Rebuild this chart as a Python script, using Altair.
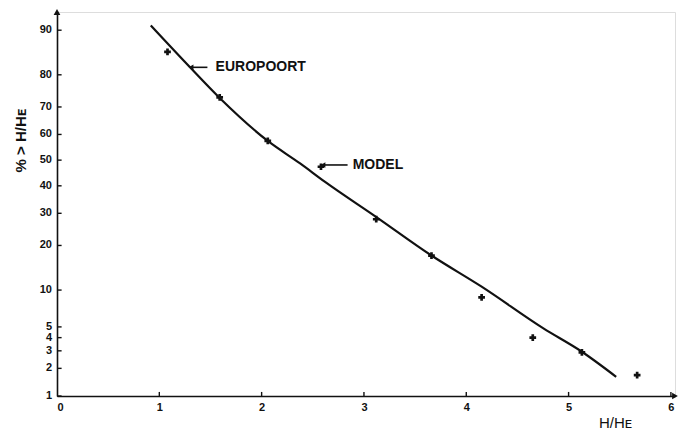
import altair as alt
import pandas as pd
from statistics import NormalDist

nd = NormalDist()

# ---- data ----
prob_ticks = [1, 2, 3, 4, 5, 10, 20, 30, 40, 50, 60, 70, 80, 90]
x_ticks = [1, 2, 3, 4, 5, 6]

europoort_x = [0.916, 1.30, 1.59, 2.06, 2.376, 2.62, 3.118, 3.656, 4.15, 4.754, 5.13, 5.465]
europoort_p = [90.8, 82.0, 73.0, 57.5, 48.7, 41.5, 28.8, 17.4, 10.6, 4.85, 2.94, 1.63]

model_x = [1.08, 1.59, 2.06, 2.58, 3.12, 3.66, 4.15, 4.65, 5.13, 5.67]
model_p = [85.7, 73.2, 57.5, 47.4, 28.0, 17.3, 8.8, 4.0, 2.9, 1.7]

labels = ["EUROPOORT", "MODEL"]
label_x = [1.55, 2.89]
label_p = [82.0, 48.1]
arrow_x0 = [1.31, 2.60]
arrow_x1 = [1.47, 2.84]

X_MAX = 6.04
P_MIN, P_MAX = 1.0, 92.8


def z(p):
    return nd.inv_cdf(p / 100.0)


Z_MIN, Z_MAX = z(P_MIN), z(P_MAX)

curve_df = pd.DataFrame({"x": europoort_x, "z": [z(p) for p in europoort_p]})
model_df = pd.DataFrame({"x": model_x, "z": [z(p) for p in model_p]})
ytick_df = pd.DataFrame({"z": [z(p) for p in prob_ticks], "x0": 0.0, "x1": 0.045,
                         "label": [str(p) for p in prob_ticks]})
xtick_df = pd.DataFrame({"x": x_ticks, "z0": Z_MIN, "z1": Z_MIN + 0.04})
lab_df = pd.DataFrame({"label": labels, "x": label_x, "z": [z(p) for p in label_p],
                       "a0": arrow_x0, "a1": arrow_x1})
arrowhead_df = pd.DataFrame({"x": [0.0, X_MAX], "z": [Z_MAX, Z_MIN],
                             "shape": ["triangle-up", "triangle-right"]})

xscale = alt.Scale(domain=[0, X_MAX], nice=False, zero=False)
yscale = alt.Scale(domain=[Z_MIN, Z_MAX], nice=False, zero=False)

x_axis = alt.Axis(values=[0, 1, 2, 3, 4, 5, 6], format="d", ticks=False, grid=False,
                  labelOverlap=False,
                  domainColor="#111", domainWidth=1.6, labelFont="Liberation Sans",
                  labelFontWeight="bold", labelFontSize=11, labelColor="#111",
                  labelPadding=5, title="H/Hᴇ", titleFont="Liberation Sans",
                  titleFontSize=15, titleFontWeight="normal", titleColor="#111",
                  titleX=558, titleY=26, titleAnchor="start", titleAlign="center",
                  titleBaseline="middle")
y_axis = alt.Axis(values=[z(p) for p in prob_ticks], labels=False, ticks=False,
                  grid=False, domainColor="#111", domainWidth=1.6,
                  title="% > H/Hᴇ",
                  titleFont="Liberation Sans", titleFontSize=15, titleFontWeight="bold",
                  titleColor="#111", titleX=-29, titleY=128, titleAngle=-90,
                  titleAlign="center", titleBaseline="bottom")

base_x = alt.X("x:Q", scale=xscale, axis=x_axis)
base_y = alt.Y("z:Q", scale=yscale, axis=y_axis)

curve = alt.Chart(curve_df).mark_line(color="#111", strokeWidth=2.2,
                                      interpolate="monotone").encode(x=base_x, y=base_y)

points = alt.Chart(model_df).mark_point(shape="cross", filled=True, color="#111",
                                        size=45, opacity=1).encode(x="x:Q", y="z:Q")

yticks = alt.Chart(ytick_df).mark_rule(color="#111", strokeWidth=1.4).encode(
    x="x0:Q", x2="x1:Q", y="z:Q")
ylabels = alt.Chart(ytick_df).mark_text(align="right", baseline="middle", dx=-5,
                                       font="Liberation Sans", fontWeight="bold",
                                       fontSize=11, color="#111").encode(
    x="x0:Q", y="z:Q", text="label:N")
xticks = alt.Chart(xtick_df).mark_rule(color="#111", strokeWidth=1.4).encode(
    x="x:Q", y="z0:Q", y2="z1:Q")

arrowheads = alt.Chart(arrowhead_df).mark_point(filled=True, color="#111", size=45,
                                               opacity=1).encode(
    x="x:Q", y="z:Q", shape=alt.Shape("shape:N", scale=None, legend=None))

ann_rule = alt.Chart(lab_df).mark_rule(color="#111", strokeWidth=1.6).encode(
    x="a0:Q", x2="a1:Q", y="z:Q")
ann_head = alt.Chart(lab_df).mark_point(shape="triangle-left", filled=True, color="#111",
                                       size=30, opacity=1).encode(x="a0:Q", y="z:Q")
ann_text = alt.Chart(lab_df).mark_text(align="left", baseline="middle",
                                      font="Liberation Sans", fontWeight="bold",
                                      fontSize=14, color="#111").encode(
    x="x:Q", y="z:Q", text="label:N")

chart = alt.layer(curve, points, yticks, ylabels, xticks, arrowheads, ann_rule, ann_head,
                  ann_text).properties(
    width=618, height=384,
    autosize=alt.AutoSizeParams(type="none"),
    padding={"left": 49, "top": 4, "right": 3, "bottom": 37},
).configure_view(stroke=None).configure(background="white")

chart.save("out.html", embed_options={"renderer": "svg", "actions": False})
